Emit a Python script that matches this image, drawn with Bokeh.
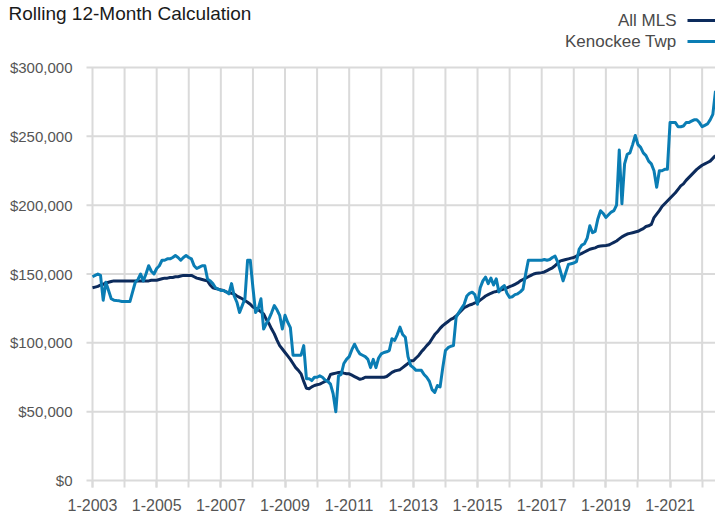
from bokeh.plotting import figure
from bokeh.models import Range1d, FixedTicker, Label, Arrow
from bokeh.embed import file_html
from bokeh.resources import INLINE

# ---------------- data ----------------
TITLE = "Rolling 12-Month Calculation"
SERIES_NAMES = ["All MLS", "Kenockee Twp"]
START_YEAR = 2003  # monthly values from 1-2003 to 6-2022

# Rolling 12-month median sale price, thousands of dollars
all_mls_k = [
    140, 140.5, 141, 142, 142.5, 143.5, 144, 144.5, 145, 145, 145, 145,          # 2003
    145, 145, 145, 145, 145, 145, 145, 145, 145, 145, 145.5, 145.5,              # 2004
    145.5, 146, 146.5, 147, 147, 147.5, 147.5, 148, 148, 148.5, 149, 149,        # 2005
    149, 149, 148, 147, 146.5, 146, 145.5, 145, 142, 140, 139.5, 139,            # 2006
    138.5, 138, 137, 136.5, 136, 135.5, 134, 133, 132, 130.7, 129.5, 128,        # 2007
    126, 125, 124, 122.5, 121, 117, 114, 110, 106.5, 102, 98, 95.5,              # 2008
    93, 90.5, 88, 85, 82, 80, 77.5, 72, 67, 66.6, 68, 69,                        # 2009
    69.5, 70, 71, 72, 72.6, 77, 77.5, 78, 78.5, 78.7, 78, 77.5,                  # 2010
    77.5, 76.5, 75.5, 74.5, 73.5, 74, 75, 75, 75, 75, 75, 75,                    # 2011
    75, 75, 75.5, 77, 78.5, 79.5, 80, 80.5, 82, 83.5, 85, 87,                    # 2012
    87, 89, 90.8, 93.5, 95.6, 98, 100, 103, 106, 108, 110.5, 112.5,              # 2013
    114, 115.5, 117, 118, 119.5, 121.5, 123.5, 125.5, 126.5, 127.5, 128, 129,    # 2014
    129.5, 131, 132.5, 134, 135, 136, 136.8, 137.3, 138, 138.5, 139.2, 140,      # 2015
    140.8, 141.5, 142.5, 143.5, 145, 146, 147, 148, 149, 150, 150.5, 150.8,      # 2016
    151, 151.5, 152.5, 153.5, 154.5, 156, 158, 159.5, 160, 160.5, 161, 161.5,    # 2017
    162, 163, 164, 165, 166, 167, 168, 168.5, 169, 170, 170.3, 170.5,            # 2018
    170.7, 171, 172, 173, 174, 175.5, 177, 178, 179, 179.5, 180, 180.5,          # 2019
    181, 182, 183, 184.5, 185, 186, 191, 193.5, 196, 199, 201, 203,              # 2020
    205, 207, 209, 211.5, 214, 215.5, 218, 220, 222, 224, 226, 227.5,            # 2021
    229, 230, 231, 232, 234, 236,                                                # 2022
]

kenockee_k = [
    148, 149, 150, 149, 131, 144, 138, 132, 131, 130.7, 130.5, 130,              # 2003
    130, 130, 130, 137, 144, 146, 150, 145, 150, 156, 152, 150,                  # 2004
    154, 156, 160, 160, 161, 161, 162, 163.4, 162, 160, 162, 163.4,              # 2005
    162, 161, 156, 154, 155, 156, 156, 146.5, 145, 143, 140, 139,                # 2006
    138, 138, 137, 135.6, 143, 134, 129.5, 122, 127, 132, 160, 160,              # 2007
    140, 122, 125, 132, 110, 114, 117.4, 122, 127, 124, 120, 110,                # 2008
    120, 115, 111, 91, 91, 91, 91, 98, 74, 74, 72.6, 75,                         # 2009
    75, 76, 75, 73, 72, 70, 63, 50, 76, 77, 85, 88,                              # 2010
    90, 95, 99, 95, 92, 91, 90, 88, 82, 88, 82, 89,                              # 2011
    92, 93, 93.5, 94.4, 103, 101.7, 106, 111.4, 106, 104, 90, 83.5,              # 2012
    82, 80, 80, 80, 77, 75, 72, 66, 64, 69, 68, 82,                              # 2013
    94.4, 96.5, 97.5, 98, 118.6, 122, 125, 128, 134, 136, 136.8, 135,            # 2014
    128, 140, 145, 147.7, 143, 147, 142, 146.5, 137, 140, 141.6, 136,            # 2015
    133, 133.5, 135, 135.6, 137, 139, 150, 160, 160, 160, 160, 160,              # 2016
    160, 160.5, 160, 160.5, 162, 163, 158.6, 152, 145, 151, 157, 157.5,          # 2017
    158, 159, 168, 171, 172, 176, 185, 180, 181, 190, 196, 194,                  # 2018
    191, 193, 195, 196, 200, 240, 201, 230, 237, 238, 244, 250.6,                # 2019
    244, 242, 238, 236, 232, 230, 225, 213, 225, 225, 226, 226,                  # 2020
    260, 260, 260, 257, 257, 257.5, 260, 260, 261, 262, 262, 260,                # 2021
    257, 258, 259, 262, 266, 283,                                                # 2022
]

x_label_years = [2003, 2005, 2007, 2009, 2011, 2013, 2015, 2017, 2019, 2021]
x_tick_labels = ["1-2003", "1-2005", "1-2007", "1-2009", "1-2011",
                 "1-2013", "1-2015", "1-2017", "1-2019", "1-2021"]
x_year_marks = [2003, 2004, 2005, 2006, 2007, 2008, 2009, 2010, 2011, 2012,
                2013, 2014, 2015, 2016, 2017, 2018, 2019, 2020, 2021, 2022]
y_ticks = [0, 50000, 100000, 150000, 200000, 250000, 300000]
y_tick_labels = ["$0", "$50,000", "$100,000", "$150,000", "$200,000", "$250,000", "$300,000"]

assert len(all_mls_k) == len(kenockee_k)

# ---------------- derived ----------------
n = len(all_mls_k)
x = [START_YEAR + i / 12 for i in range(n)]
all_mls = [v * 1000 for v in all_mls_k]
kenockee = [v * 1000 for v in kenockee_k]
x_last = START_YEAR + (n - 1) / 12

NAVY = "#0c2b5c"
BLUE = "#0a7db4"
GRID = "#dadada"
FONT = "Liberation Sans"

# ---------------- layout (pixels) ----------------
W, H = 715, 515
FRAME_H = H                  # the frame covers the whole canvas
PLOT_L = 92                  # pixel where the first year sits
PLOT_TOP = 67                # pixel of the top y tick
ZERO_PX = 480                # pixel of the $0 line
GRID_L = 86                  # horizontal gridlines start (tick stubs)
YLAB_R = 72                  # right edge of y tick labels

x_per_px = (x_last - START_YEAR) / (W - PLOT_L)
x_start = START_YEAR - PLOT_L * x_per_px
y_per_px = y_ticks[-1] / (ZERO_PX - PLOT_TOP)
y_end = y_ticks[-1] + PLOT_TOP * y_per_px
y_start = -(FRAME_H - ZERO_PX) * y_per_px

p = figure(width=W, height=H, output_backend="svg", toolbar_location=None,
           x_range=Range1d(x_start, x_last), y_range=Range1d(y_start, y_end),
           y_axis_location=None,
           min_border_left=0, min_border_right=0, min_border_top=0,
           min_border_bottom=0)
p.outline_line_color = None
p.background_fill_color = "white"
p.border_fill_color = "white"
p.grid.visible = False

# x axis drawn along the $0 line: tick every year, label every other year
xt = FixedTicker(ticks=x_label_years, minor_ticks=x_year_marks)
p.xaxis.fixed_location = y_ticks[0]
p.xaxis.ticker = xt
p.xaxis.major_label_overrides = {yr: lab for yr, lab in zip(x_label_years, x_tick_labels)}
p.xaxis.axis_line_color = None
p.xaxis.major_tick_line_color = GRID
p.xaxis.major_tick_line_width = 2
p.xaxis.major_tick_in = 0
p.xaxis.major_tick_out = 7
p.xaxis.minor_tick_line_color = GRID
p.xaxis.minor_tick_line_width = 2
p.xaxis.minor_tick_in = 0
p.xaxis.minor_tick_out = 7
p.xaxis.major_label_standoff = 11
p.xaxis.major_label_text_font = FONT
p.xaxis.major_label_text_font_size = "16px"
p.xaxis.major_label_text_color = "#555555"

# gridlines (horizontal ones include the short tick stub at the left)
grid_x0 = x_start + GRID_L * x_per_px
p.segment(x0=[grid_x0] * len(y_ticks), y0=y_ticks, x1=[x_last] * len(y_ticks), y1=y_ticks,
          line_color=GRID, line_width=2)
p.segment(x0=x_year_marks, y0=[y_ticks[0]] * len(x_year_marks),
          x1=x_year_marks, y1=[y_ticks[-1]] * len(x_year_marks),
          line_color=GRID, line_width=2)

# y tick labels
ylab_x = x_start + YLAB_R * x_per_px
p.text(x=[ylab_x] * len(y_ticks), y=y_ticks, text=y_tick_labels,
       text_align="right", text_baseline="middle",
       text_font={"value": FONT}, text_font_size={"value": "15px"}, text_color="#555555")

# series
p.line(x, all_mls, line_color=NAVY, line_width=3, line_join="round")
p.line(x, kenockee, line_color=BLUE, line_width=3, line_join="round")

# title
p.add_layout(Label(x=8, y=FRAME_H - 12.5, x_units="screen", y_units="screen",
                   text=TITLE, text_font=FONT, text_font_size="19px",
                   text_color="#1a1a1a", text_baseline="middle", text_align="left"))

# legend: label then line sample
rows_y = [FRAME_H - 20, FRAME_H - 41]
for name, col, ry in zip(SERIES_NAMES, [NAVY, BLUE], rows_y):
    p.add_layout(Label(x=676, y=ry, x_units="screen", y_units="screen",
                       text=name, text_font=FONT, text_font_size="17px",
                       text_color="#4a4a4a", text_baseline="middle", text_align="right"))
    p.add_layout(Arrow(end=None, x_start=687, y_start=ry, x_end=W, y_end=ry,
                       start_units="screen", end_units="screen",
                       line_color=col, line_width=3))

open("out.html", "w").write(file_html(p, INLINE))
